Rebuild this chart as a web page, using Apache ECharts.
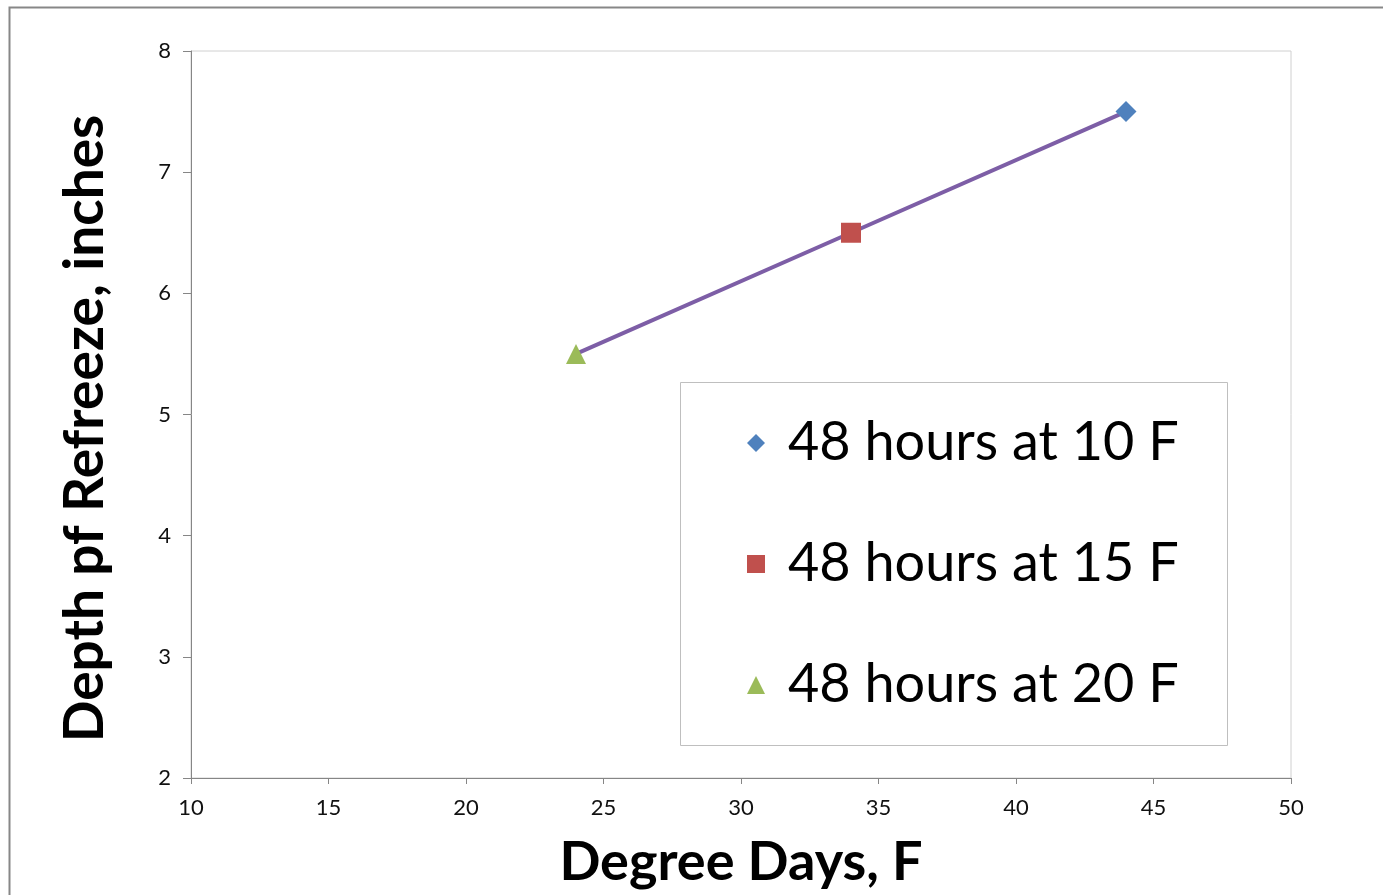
<!DOCTYPE html>
<html>
<head>
<meta charset="utf-8">
<script src="https://cdn.jsdelivr.net/npm/echarts@6/dist/echarts.min.js"></script>
<style>html,body{margin:0;padding:0;background:#fff;}#chart{width:1383px;height:895px;}</style>
</head>
<body>
<div id="chart"></div>
<script>
var seriesNames = ['48 hours at 10 F', '48 hours at 15 F', '48 hours at 20 F'];
var degreeDays = [44, 34, 24];
var refreezeDepth = [7.5, 6.5, 5.5];
var xTicks = [10, 15, 20, 25, 30, 35, 40, 45, 50];
var yTicks = [2, 3, 4, 5, 6, 7, 8];

var symbols = ['diamond', 'rect', 'triangle'];
var symbolSizes = [21, 20, 20];
var colors = ['#4F81BD', '#C0504D', '#9BBB59'];

var chart = echarts.init(document.getElementById('chart'));
var FONT = 'Lato';

var series = seriesNames.map(function (n, i) {
  return {
    name: n, type: 'scatter', z: 5,
    symbol: symbols[i], symbolSize: symbolSizes[i],
    itemStyle: { color: colors[i], opacity: 1 },
    data: [[degreeDays[i], refreezeDepth[i]]]
  };
});
var lineData = degreeDays.map(function (x, i) { return [x, refreezeDepth[i]]; })
  .sort(function (a, b) { return a[0] - b[0]; });
series.push({
  name: 'trend', type: 'line', z: 3, showSymbol: false, symbol: 'none',
  lineStyle: { color: '#7D5EA6', width: 4 },
  data: lineData, silent: true
});

chart.setOption({
  animation: false,
  textStyle: { fontFamily: FONT },
  grid: { left: 191, top: 51, width: 1100, height: 727, show: true, borderColor: '#D0D0D0', borderWidth: 1 },
  xAxis: {
    type: 'value', min: xTicks[0], max: xTicks[xTicks.length - 1], interval: 5,
    name: 'Degree Days, F', nameLocation: 'middle', nameGap: 58,
    nameTextStyle: { fontFamily: FONT, fontSize: 54, fontWeight: 'bold', color: '#000' },
    axisLine: { lineStyle: { color: '#868686', width: 1 } },
    axisTick: { show: true, length: 6, lineStyle: { color: '#868686' } },
    axisLabel: { fontSize: 22, color: '#111', margin: 19, fontFamily: FONT },
    splitLine: { show: false }
  },
  yAxis: {
    type: 'value', min: yTicks[0], max: yTicks[yTicks.length - 1], interval: 1,
    name: 'Depth pf Refreeze, inches', nameLocation: 'middle', nameGap: 78, nameRotate: 90,
    nameTextStyle: { fontFamily: FONT, fontSize: 55, fontWeight: 'bold', color: '#000', padding: [0, 28, 0, 0] },
    axisLine: { show: true, lineStyle: { color: '#868686', width: 1 } },
    axisTick: { show: true, length: 8, lineStyle: { color: '#868686' } },
    axisLabel: { fontSize: 22, color: '#111', margin: 20, fontFamily: FONT },
    splitLine: { show: false }
  },
  legend: {
    data: seriesNames, orient: 'vertical', left: 742, top: 408,
    itemWidth: 18, itemHeight: 18, itemGap: 61,
    itemStyle: { opacity: 1 },
    textStyle: { fontFamily: FONT, fontSize: 54, color: '#000', lineHeight: 60, padding: [0, 0, 0, 18] },
    selectedMode: false
  },
  graphic: [
    { type: 'rect', left: 7, top: 5, shape: { width: 1400, height: 920 }, style: { fill: 'none', stroke: '#878787', lineWidth: 2 }, silent: true, z: -1 },
    { type: 'rect', left: 680, top: 382, shape: { width: 547, height: 363 }, style: { fill: '#fff', stroke: '#BFBFBF', lineWidth: 1 }, z: 0, silent: true }
  ],
  series: series
});
</script>
</body>
</html>
